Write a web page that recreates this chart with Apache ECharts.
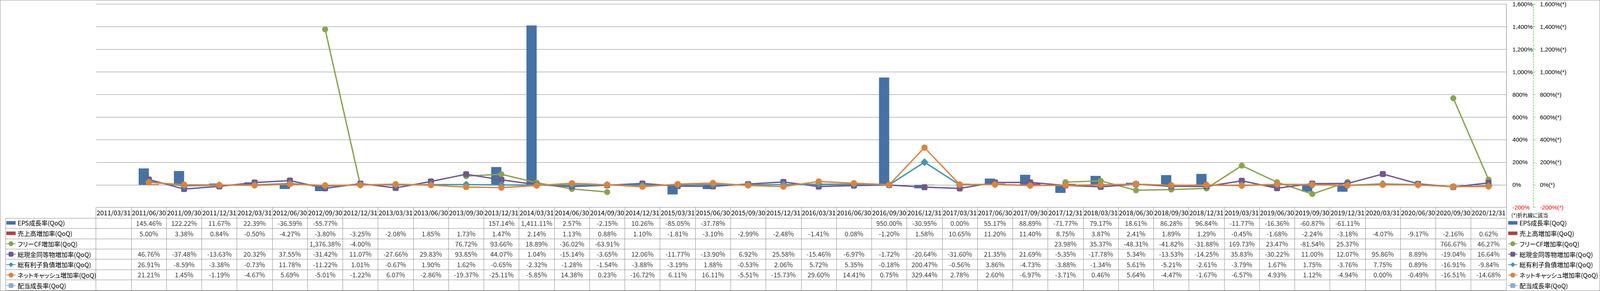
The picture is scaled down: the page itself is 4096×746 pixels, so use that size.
<!DOCTYPE html>
<html><head><meta charset="utf-8">
<script src="https://cdn.jsdelivr.net/npm/echarts@6/dist/echarts.min.js"></script>
<style>
html,body{margin:0;padding:0;background:#fff;}
#c{width:4096px;height:746px;}
#c text{font-feature-settings:"palt" 1;}
#b{position:absolute;left:0;top:0;width:4096px;height:746px;box-sizing:border-box;border:1px solid #8c8c8c;pointer-events:none;}
</style>
</head><body><div id="c"></div><div id="b"></div>
<script>
// ---------------- data ----------------
const dates = ['2011/03/31','2011/06/30','2011/09/30','2011/12/31','2012/03/31','2012/06/30','2012/09/30','2012/12/31',
 '2013/03/31','2013/06/30','2013/09/30','2013/12/31','2014/03/31','2014/06/30','2014/09/30','2014/12/31',
 '2015/03/31','2015/06/30','2015/09/30','2015/12/31','2016/03/31','2016/06/30','2016/09/30','2016/12/31',
 '2017/03/31','2017/06/30','2017/09/30','2017/12/31','2018/03/31','2018/06/30','2018/09/30','2018/12/31',
 '2019/03/31','2019/06/30','2019/09/30','2019/12/31','2020/03/31','2020/06/30','2020/09/30','2020/12/31'];

const seriesNames = ['EPS成長率(QoQ)','売上高増加率(QoQ)','フリーCF増加率(QoQ)','総現金同等物増加率(QoQ)',
 '総有利子負債増加率(QoQ)','ネットキャッシュ増加率(QoQ)','配当成長率(QoQ)'];

const epsGrowth = [null,145.46,122.22,11.67,22.39,-36.59,-55.77,null,null,null,null,157.14,1411.11,2.57,-2.15,10.26,
 -85.05,-37.78,null,null,null,null,950.00,-30.95,0.00,55.17,88.89,-71.77,79.17,18.61,86.28,96.84,
 -11.77,-16.36,-60.87,-61.11,null,null,null,null];

const salesGrowth = [null,5.00,3.38,0.84,-0.50,-4.27,-3.80,-3.25,-2.08,1.85,1.73,1.47,2.14,1.13,0.88,1.10,
 -1.81,-3.10,-2.99,-2.48,-1.41,0.08,-1.20,1.58,10.65,11.20,11.40,8.75,3.87,2.41,1.89,1.29,
 -0.45,-1.68,-2.24,-3.18,-4.07,-9.17,-2.16,0.62];

const fcfGrowth = [null,null,null,null,null,null,1376.38,-4.00,null,null,76.72,93.66,18.89,-36.02,-63.91,null,
 null,null,null,null,null,null,null,null,null,null,null,23.98,35.37,-48.31,-41.82,-31.88,
 169.73,23.47,-81.54,25.37,null,null,766.67,46.27];

const cashGrowth = [null,46.76,-37.48,-13.63,20.32,37.55,-31.42,11.07,-27.66,29.83,93.85,44.07,1.04,-15.14,-3.65,12.06,
 -11.77,-13.90,6.92,25.58,-15.46,-6.97,-1.72,-20.64,-31.60,21.35,21.69,-5.35,-17.78,5.34,-13.53,-14.25,
 35.83,-30.22,11.00,12.07,95.86,8.89,-19.04,16.64];

const debtGrowth = [null,26.91,-8.59,-3.38,-0.73,11.78,-11.22,1.01,-0.67,1.90,1.62,-0.65,-2.32,-1.28,-1.54,-3.88,
 -3.19,1.88,-0.53,2.06,5.72,5.35,-0.18,200.47,-0.56,3.86,-4.73,-3.88,-1.34,5.61,-5.21,-2.61,
 -3.79,1.67,1.75,-3.76,7.75,0.89,-16.91,-9.84];

const netCashGrowth = [null,21.21,1.45,-1.19,-4.67,5.69,-5.01,-1.22,6.07,-2.86,-19.37,-25.11,-5.85,14.38,0.23,-16.72,
 6.11,16.11,-5.51,-15.73,29.60,14.41,0.75,329.44,2.78,2.60,-6.97,-3.71,0.46,5.64,-4.47,-1.67,
 -6.57,4.93,1.12,-4.94,0.00,-0.49,-16.51,-14.68];

const dividendGrowth = new Array(40).fill(null);

const axisMin = -200, axisMax = 1600, axisStep = 200;
const noteText = '(*)折れ線に該当';

// ---------------- style ----------------
const S = 0.696;
const FONT = '"Noto Sans CJK JP", "Noto Sans", sans-serif';
const NUMFONT = '"Liberation Sans", Arial, sans-serif';
const colors = ['#4572A7','#AA4643','#89A54E','#71588F','#4198AF','#DB843D','#93A9CF'];
const gridGray = '#868686';
const tableGray = '#8c8c8c';
const fs = 24 * S;
const legFs = 23 * S;
const axFs = 22 * S;

const rows = [epsGrowth, salesGrowth, fcfGrowth, cashGrowth, debtGrowth, netCashGrowth, dividendGrowth];
const tableData = [];
rows.forEach((arr, r) => arr.forEach((v, c) => { if (v !== null) tableData.push([c, r, v]); }));

function pct(v) {
  return v.toLocaleString('en-US', {minimumFractionDigits: 2, maximumFractionDigits: 2}) + '%';
}
function axisPct(v) { return v.toLocaleString('en-US') + '%'; }

const barIcon = 'path://M0,-4.5L0,-4.5M0,0H34V13H0ZM0,17.5L0,17.5';
const legendData = seriesNames.map((n, i) => i < 2 ? {name: n, icon: barIcon} : {name: n});

const legendCommon = {
  orient: 'vertical',
  top: (822 - 11.25) * S - 1,
  itemWidth: 34 * S,
  itemHeight: 22.5 * S,
  itemGap: (38 - 22.5) * S,
  padding: 0,
  selectedMode: false,
  symbolKeepAspect: true,
  textStyle: {fontFamily: FONT, fontSize: legFs, color: '#000', lineHeight: 22.5 * S},
  data: legendData
};

const chart = echarts.init(document.getElementById('c'), null, {renderer: 'svg'});
const lineSymbols = ['circle', 'roundRect', 'diamond', 'circle', 'roundRect'];
const lineSizes = [22 * S, 22 * S, 29 * S, 23 * S, 22 * S];

const lineSeries = [fcfGrowth, cashGrowth, debtGrowth, netCashGrowth, dividendGrowth].map((d, k) => ({
  name: seriesNames[k + 2],
  type: 'line',
  xAxisIndex: 0,
  yAxisIndex: 1,
  data: d,
  symbol: lineSymbols[k],
  symbolSize: lineSizes[k],
  showSymbol: true,
  showAllSymbol: true,
  connectNulls: false,
  lineStyle: {width: 5 * S, color: colors[k + 2]},
  itemStyle: {color: colors[k + 2], borderWidth: 0},
  emphasis: {disabled: true},
  z: 3 + k
}));

const option = {
  animation: false,
  backgroundColor: '#fff',
  textStyle: {fontFamily: FONT},
  color: colors,
  title: {
    text: noteText, left: 5559 * S, top: (793 - 10) * S, padding: 0,
    textStyle: {fontFamily: FONT, fontSize: 19 * S, fontWeight: 'normal', color: '#000', lineHeight: 20 * S}
  },
  legend: [
    Object.assign({left: 22 * S}, legendCommon),
    Object.assign({left: 5546 * S}, legendCommon)
  ],
  grid: [
    {left: 353 * S, right: 4096 - 5540 * S, top: 15 * S, bottom: 746 - 764 * S, outerBoundsMode: 'none', containLabel: false},
    {left: 353 * S, right: 4096 - 5540 * S, top: 803 * S, bottom: 746 - 1069 * S, outerBoundsMode: 'none', containLabel: false}
  ],
  xAxis: [
    {type: 'category', gridIndex: 0, data: dates, boundaryGap: true,
     axisLine: {show: false}, axisTick: {show: false}, axisLabel: {show: false}, splitLine: {show: false}},
    {type: 'category', gridIndex: 1, data: dates, position: 'top', boundaryGap: true,
     axisLine: {show: true, lineStyle: {color: tableGray, width: 1}},
     axisTick: {show: true, interval: 0, inside: false, length: 39 * S, lineStyle: {color: tableGray, width: 1}},
     axisLabel: {show: true, interval: 0, margin: 19.5 * S, verticalAlign: 'middle', fontFamily: FONT, fontSize: fs, color: '#000'},
     splitLine: {show: true, interval: 0, lineStyle: {color: tableGray, width: 1}}}
  ],
  yAxis: [
    {type: 'value', gridIndex: 0, position: 'right', min: axisMin, max: axisMax, interval: axisStep,
     axisLine: {show: true, lineStyle: {color: gridGray, width: 1.2}},
     axisTick: {show: false},
     axisLabel: {show: true, margin: 23 * S, fontFamily: NUMFONT, fontSize: axFs, lineHeight: axFs,
       color: v => (v < 0 ? '#ff0000' : '#000'), formatter: v => axisPct(v)},
     splitLine: {show: true, lineStyle: {color: gridGray, width: 1.2}}},
    {type: 'value', gridIndex: 0, position: 'right', offset: 100 * S, min: axisMin, max: axisMax, interval: axisStep,
     axisLine: {show: true, lineStyle: {color: '#00dd00', width: 1.2, type: [4, 3]}},
     axisTick: {show: true, inside: false, length: 8 * S, lineStyle: {color: '#00dd00', width: 1}},
     axisLabel: {show: true, margin: 24 * S, fontFamily: NUMFONT, fontSize: axFs, lineHeight: axFs,
       color: v => (v < 0 ? '#ff0000' : '#000'), formatter: v => axisPct(v) + '(*)'},
     splitLine: {show: false}},
    {type: 'category', gridIndex: 1, data: seriesNames, inverse: true, position: 'left', boundaryGap: true,
     axisLine: {show: true, lineStyle: {color: tableGray, width: 1}},
     axisTick: {show: true, interval: 0, inside: false, length: 332 * S, lineStyle: {color: tableGray, width: 1}},
     axisLabel: {show: false},
     splitLine: {show: true, interval: 0, lineStyle: {color: tableGray, width: 1}}},
    {type: 'category', gridIndex: 1, data: seriesNames, inverse: true, position: 'left', offset: 332 * S,
     axisLine: {show: true, lineStyle: {color: tableGray, width: 1}},
     axisTick: {show: false}, axisLabel: {show: false}, splitLine: {show: false}}
  ],
  series: [
    {name: seriesNames[0], type: 'bar', xAxisIndex: 0, yAxisIndex: 0, data: epsGrowth,
     barWidth: 37.5 * S, barGap: '0%', itemStyle: {color: colors[0]}, emphasis: {disabled: true}, z: 2},
    {name: seriesNames[1], type: 'bar', xAxisIndex: 0, yAxisIndex: 0, data: salesGrowth,
     barWidth: 37.5 * S, barGap: '0%', itemStyle: {color: colors[1]}, emphasis: {disabled: true}, z: 2},
    ...lineSeries,
    {name: 'table', type: 'scatter', xAxisIndex: 1, yAxisIndex: 2, data: tableData,
     symbolSize: 1, itemStyle: {color: 'rgba(0,0,0,0)'}, silent: true, z: 10,
     label: {show: true, position: 'inside', formatter: p => pct(p.value[2]),
       fontFamily: FONT, fontSize: fs, color: '#000'}}
  ]
};
chart.setOption(option);
</script>
</body></html>
